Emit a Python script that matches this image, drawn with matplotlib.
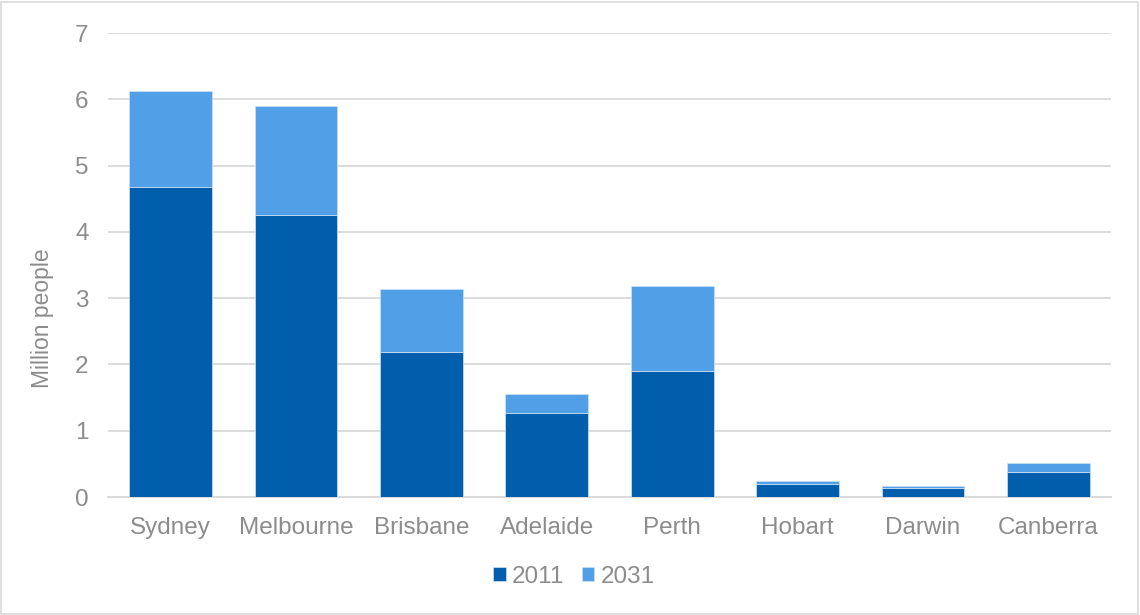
import matplotlib.pyplot as plt
import numpy as np

plt.rcParams['font.family'] = ['Liberation Sans', 'DejaVu Sans']

# Dados (milhões de pessoas)
cidades = ['Sydney', 'Melbourne', 'Brisbane', 'Adelaide', 'Perth', 'Hobart', 'Darwin', 'Canberra']
pop_2011 = [4.67, 4.25, 2.19, 1.27, 1.90, 0.20, 0.13, 0.37]
pop_2031_total = [6.13, 5.90, 3.14, 1.55, 3.18, 0.24, 0.16, 0.51]
acrescimo = [t - b for t, b in zip(pop_2031_total, pop_2011)]

cor_2011 = '#005EAC'
cor_2031 = '#519FE6'
cinza = '#8C8C8C'

fig = plt.figure(figsize=(11.4, 6.15), dpi=100)
ax = fig.add_axes([108 / 1140, 118 / 615, 1003 / 1140, 464 / 615])

x = np.arange(len(cidades))
ax.bar(x, pop_2011, width=0.66, color=cor_2011, label='2011', zorder=3,
       edgecolor='#cfe2f5', linewidth=0.5)
ax.bar(x, acrescimo, bottom=pop_2011, width=0.66, color=cor_2031, label='2031', zorder=3,
       edgecolor='#cfe2f5', linewidth=0.5)

ax.set_xlim(-0.5, len(cidades) - 0.5)
ax.set_ylim(0, 7)
ax.set_yticks(range(0, 8))
ax.set_xticks(x)
ax.set_xticklabels(cidades)

ax.grid(axis='y', color='#D9D9D9', linewidth=1.3, zorder=0)
for lado in ['top', 'right', 'left']:
    ax.spines[lado].set_visible(False)
ax.spines['bottom'].set_color('#D9D9D9')
ax.spines['bottom'].set_linewidth(1.3)
ax.tick_params(axis='both', length=0, labelsize=17.5, colors=cinza)
ax.tick_params(axis='x', pad=14.5)
ax.tick_params(axis='y', pad=14)

fig.text(43 / 1140, 1 - 318 / 615, 'Million people', rotation=90, fontsize=16.5,
         color=cinza, ha='center', va='center')

leg = fig.legend(loc='center', bbox_to_anchor=(574 / 1140, 1 - 577 / 615), ncol=2,
                 frameon=False, fontsize=17.5, handlelength=0.5, handleheight=0.5,
                 handletextpad=0.25, columnspacing=0.75)
for t in leg.get_texts():
    t.set_color(cinza)

# Moldura cinza em volta da figura
borda = plt.Rectangle((1 / 1140, 1 / 615), 1 - 3 / 1140, 1 - 3 / 615, transform=fig.transFigure,
                      fill=False, edgecolor='#D9D9D9', linewidth=1.2)
fig.patches.append(borda)

fig.savefig('out.png', dpi=100)
